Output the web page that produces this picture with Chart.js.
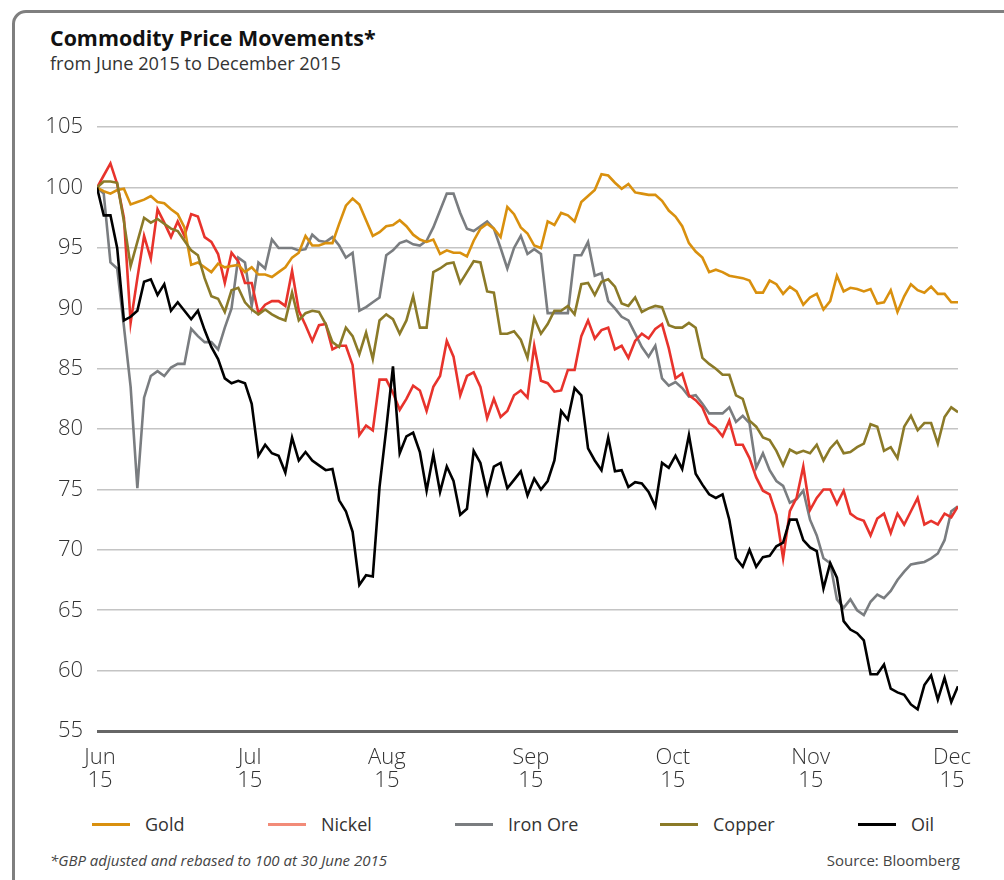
<!DOCTYPE html>
<html>
<head>
<meta charset="utf-8">
<title>Commodity Price Movements</title>
<script src="https://cdn.jsdelivr.net/npm/chart.js@4.4.0/dist/chart.umd.min.js"></script>
<style>
  html, body { margin: 0; padding: 0; background: #fff; width: 1004px; height: 880px; overflow: hidden; font-family: "Open Sans", sans-serif; color: #222; }
  .frame { position: absolute; left: 12px; top: 10px; width: 1100px; height: 1000px; border: 3px solid #7f7f7f; border-radius: 14px; }
  .title { position: absolute; left: 50px; top: 25px; font-size: 21.4px; line-height: 26px; font-weight: 700; color: #111; }
  .subtitle { position: absolute; left: 50px; top: 51px; font-size: 18.2px; line-height: 24px; color: #333; }
  #wrap { position: absolute; left: 0; top: 100px; width: 1004px; height: 700px; }
  .legend { position: absolute; top: 811px; left: 0; width: 1004px; height: 26px; font-size: 18px; line-height: 26px; color: #333; }
  .legend .item { position: absolute; top: 0; display: flex; align-items: center; white-space: nowrap; }
  .legend .swatch { width: 38px; height: 3px; margin-right: 15px; }
  .foot { position: absolute; top: 849px; left: 50px; font-size: 15px; line-height: 22px; font-style: italic; color: #444; }
  .source { position: absolute; top: 849px; right: 44px; font-size: 15px; line-height: 22px; color: #444; }
</style>
</head>
<body>
<div class="frame"></div>
<div class="title">Commodity Price Movements*</div>
<div class="subtitle">from June 2015 to December 2015</div>
<div id="wrap"><canvas id="chart" width="1004" height="700"></canvas></div>
<div class="legend" id="legend"></div>
<div class="foot">*GBP adjusted and rebased to 100 at 30 June 2015</div>
<div class="source">Source: Bloomberg</div>

<script>
// axis labels
const monthLabels = ['Jun', 'Jul', 'Aug', 'Sep', 'Oct', 'Nov', 'Dec'];
const yearLabels = ['15', '15', '15', '15', '15', '15', '15'];
// trading-day position of each month label
const monthTickPos = [0.45, 22.7, 43.1, 64.5, 85.6, 106.1, 127.1];

// daily values, rebased to 100 at 30 June 2015
const gold = [
  100, 99.7, 99.5, 99.8, 99.9, 98.6, 98.8, 99.0, 99.3, 98.8,
  98.7, 98.2, 97.8, 96.7, 93.6, 93.8, 93.4, 93.0, 93.7, 93.4,
  93.5, 93.6, 93.0, 93.4, 92.8, 92.8, 92.6, 93.0, 93.4, 94.2,
  94.6, 96.0, 95.2, 95.2, 95.4, 95.4, 97.0, 98.5, 99.1, 98.6,
  97.3, 96.0, 96.3, 96.8, 96.9, 97.3, 96.8, 96.1, 95.7, 95.5,
  95.7, 94.5, 94.8, 94.6, 94.6, 94.3, 95.6, 96.6, 97.0, 96.6,
  95.9, 98.4, 97.8, 96.7, 96.2, 95.2, 95.0, 97.2, 96.9, 97.9,
  97.7, 97.2, 98.8, 99.3, 99.8, 101.1, 101.0, 100.4, 99.9, 100.3,
  99.6, 99.5, 99.4, 99.4, 98.9, 98.1, 97.6, 96.8, 95.4, 94.7,
  94.2, 93.0, 93.2, 93.0, 92.7, 92.6, 92.5, 92.3, 91.3, 91.3,
  92.3, 92.0, 91.2, 91.8, 91.4, 90.3, 90.9, 91.2, 89.9, 90.6,
  92.7, 91.4, 91.7, 91.6, 91.4, 91.6, 90.4, 90.5, 91.5, 89.7,
  91.0, 92.0, 91.5, 91.3, 91.8, 91.2, 91.2, 90.5, 90.5
];
const nickel = [
  100, 101.0, 102.0, 100.3, 97.5, 88.8, 92.5, 96.0, 94.1, 98.2,
  97.1, 95.9, 97.2, 96.0, 97.8, 97.6, 95.9, 95.5, 94.5, 92.1,
  94.6, 93.9, 92.1, 92.1, 89.6, 90.3, 90.6, 90.6, 90.2, 93.1,
  89.8, 88.6, 87.3, 88.6, 88.7, 86.6, 86.9, 86.9, 85.3, 79.5,
  80.3, 79.9, 84.1, 84.1, 83.0, 81.6, 82.5, 83.6, 83.2, 81.5,
  83.5, 84.4, 87.3, 86.0, 82.8, 84.4, 84.7, 83.5, 80.9, 82.5,
  81.0, 81.5, 82.8, 83.2, 82.6, 86.9, 84.0, 83.8, 83.1, 83.2,
  84.9, 84.9, 87.7, 89.0, 87.5, 88.2, 88.4, 86.6, 86.9, 85.9,
  87.3, 87.9, 87.5, 88.3, 88.7, 86.7, 84.2, 84.6, 82.8, 82.4,
  81.8, 80.5, 80.1, 79.4, 80.7, 78.7, 78.7, 77.6, 76.0, 74.9,
  74.6, 72.9, 69.3, 73.2, 74.3, 76.9, 73.3, 74.3, 75.0, 75.0,
  73.8, 74.9, 73.0, 72.6, 72.4, 71.2, 72.6, 73.0, 71.4, 73.0,
  72.1, 73.2, 74.3, 72.1, 72.4, 72.1, 73.0, 72.7, 73.6
];
const ironOre = [
  100, 99.5, 93.8, 93.3, 88.5, 83.5, 75.1, 82.6, 84.4, 84.8,
  84.4, 85.1, 85.4, 85.4, 88.3, 87.7, 87.2, 87.2, 86.6, 88.4,
  90.0, 94.2, 93.8, 90.2, 93.8, 93.3, 95.7, 95.0, 95.0, 95.0,
  94.8, 94.9, 96.1, 95.6, 95.5, 95.9, 95.2, 94.2, 94.6, 89.8,
  90.1, 90.5, 90.9, 94.4, 94.8, 95.4, 95.6, 95.3, 95.2, 95.6,
  96.7, 98.1, 99.5, 99.5, 97.9, 96.6, 96.4, 96.8, 97.2, 96.6,
  95.0, 93.3, 95.0, 96.0, 94.5, 94.9, 94.5, 89.6, 89.6, 89.6,
  89.6, 94.4, 94.4, 95.5, 92.7, 92.9, 90.6, 90.0, 89.3, 89.0,
  87.9, 86.8, 86.0, 86.9, 84.2, 83.6, 83.9, 83.4, 82.7, 82.8,
  82.1, 81.3, 81.3, 81.3, 81.8, 80.6, 81.1, 80.5, 76.8, 78.0,
  76.6, 75.7, 75.3, 73.9, 74.2, 74.9, 72.5, 71.2, 69.3, 68.9,
  65.9, 65.2, 65.9, 65.0, 64.6, 65.7, 66.3, 66.0, 66.6, 67.5,
  68.2, 68.8, 68.9, 69.0, 69.3, 69.7, 70.8, 73.2, 73.6
];
const copper = [
  100, 100.5, 100.5, 100.4, 97.2, 93.5, 95.5, 97.5, 97.1, 97.4,
  97.0, 96.6, 96.4, 95.6, 94.8, 94.4, 92.5, 91.0, 90.8, 89.7,
  91.5, 91.7, 90.5, 89.9, 89.5, 89.9, 89.5, 89.2, 89.0, 91.3,
  89.0, 89.6, 89.8, 89.7, 88.7, 87.2, 86.8, 88.4, 87.7, 86.2,
  88.0, 85.8, 89.0, 89.5, 89.1, 87.9, 89.0, 91.0, 88.4, 88.4,
  93.0, 93.3, 93.7, 93.8, 92.1, 93.0, 93.9, 93.8, 91.4, 91.3,
  87.9, 87.9, 88.1, 87.4, 85.9, 89.2, 87.9, 88.7, 89.8, 89.8,
  90.2, 89.5, 92.0, 92.1, 91.1, 92.2, 92.4, 91.8, 90.4, 90.2,
  90.9, 89.7, 90.0, 90.2, 90.1, 88.6, 88.4, 88.4, 88.8, 88.4,
  85.9, 85.4, 85.0, 84.5, 84.5, 82.8, 82.5, 80.7, 80.2, 79.3,
  79.1, 78.2, 77.0, 78.3, 78.0, 78.2, 78.0, 78.7, 77.4, 78.4,
  79.0, 78.0, 78.1, 78.5, 78.8, 80.4, 80.2, 78.2, 78.5, 77.6,
  80.2, 81.1, 79.9, 80.5, 80.5, 78.8, 81.0, 81.8, 81.4
];
const oil = [
  100, 97.7, 97.7, 95.0, 89.0, 89.3, 89.8, 92.2, 92.4, 91.1,
  92.0, 89.8, 90.5, 89.8, 89.1, 89.8, 88.2, 86.8, 85.8, 84.2,
  83.8, 84.0, 83.8, 82.1, 77.8, 78.7, 78.0, 77.8, 76.4, 79.3,
  77.4, 78.1, 77.4, 77.0, 76.6, 76.7, 74.1, 73.2, 71.5, 67.1,
  67.9, 67.8, 75.2, 80.0, 85.2, 78.0, 79.4, 79.7, 78.1, 74.9,
  77.9, 74.8, 76.9, 75.7, 72.9, 73.4, 78.2, 77.2, 74.7, 76.9,
  77.2, 75.1, 75.8, 76.5, 74.5, 75.9, 75.0, 75.7, 77.4, 81.5,
  80.8, 83.4, 82.8, 78.4, 77.4, 76.6, 79.3, 76.5, 76.6, 75.2,
  75.6, 75.5, 74.8, 73.6, 77.2, 76.8, 77.8, 76.7, 79.5, 76.3,
  75.4, 74.6, 74.3, 74.6, 72.5, 69.3, 68.6, 70.0, 68.6, 69.4,
  69.5, 70.3, 70.6, 72.5, 72.5, 70.8, 70.2, 69.9, 66.8, 68.9,
  67.7, 64.1, 63.4, 63.1, 62.5, 59.7, 59.7, 60.5, 58.5, 58.2,
  58.0, 57.2, 56.8, 58.8, 59.6, 57.6, 59.4, 57.4, 58.7
];

const seriesNames = ['Gold', 'Nickel', 'Iron Ore', 'Copper', 'Oil'];
const seriesValues = [gold, nickel, ironOre, copper, oil];
const lineColors = ['#d9900e', '#e8332c', '#7a7d80', '#8b7a28', '#000000'];
const legendColors = ['#d9900e', '#f28b78', '#7a7d80', '#8b7a28', '#000000'];
const drawOrder = [2, 3, 4, 1, 0];
const legendLeft = [92, 268, 455, 660, 858];

const datasets = seriesValues.map((vals, k) => ({
  label: seriesNames[k],
  data: vals.map((v, i) => ({ x: i, y: v })),
  borderColor: lineColors[k],
  backgroundColor: lineColors[k],
  borderWidth: 2.6,
  pointRadius: 0,
  tension: 0,
  order: drawOrder[k]
}));

const ctx = document.getElementById('chart').getContext('2d');
const chart = new Chart(ctx, {
  type: 'line',
  data: { datasets: datasets },
  options: {
    responsive: false,
    animation: false,
    layout: { padding: { top: 25, right: 46, left: 0, bottom: 0 } },
    plugins: {
      legend: { display: false },
      tooltip: { enabled: false }
    },
    scales: {
      x: {
        type: 'linear',
        min: 0,
        max: gold.length - 1,
        afterBuildTicks: function(axis) {
          axis.ticks = monthTickPos.map(v => ({ value: v }));
        },
        afterFit: function(axis) { axis.height = 69; },
        grid: { display: false },
        border: { display: false },
        ticks: {
          autoSkip: false,
          maxRotation: 0,
          padding: 7,
          color: '#333',
          font: { family: 'Open Sans', size: 22, weight: '300', lineHeight: 1.05 },
          callback: function(value, index) {
            return [monthLabels[index], yearLabels[index]];
          }
        }
      },
      y: {
        min: 55,
        max: 105,
        afterFit: function(axis) { axis.width = 97; },
        border: { display: false },
        grid: {
          drawTicks: false,
          color: c => (c.tick && c.tick.value === 55) ? '#666666' : '#c4c4c4',
          lineWidth: c => (c.tick && c.tick.value === 55) ? 3 : 1.6
        },
        ticks: {
          stepSize: 5,
          padding: 14,
          color: '#333',
          font: { family: 'Open Sans', size: 22, weight: '300' }
        }
      }
    }
  }
});

// legend
const legend = document.getElementById('legend');
seriesNames.forEach((name, k) => {
  const item = document.createElement('div');
  item.className = 'item';
  item.style.left = legendLeft[k] + 'px';
  item.innerHTML = '<span class="swatch" style="background:' + legendColors[k] + '"></span><span>' + name + '</span>';
  legend.appendChild(item);
});
</script>
</body>
</html>
